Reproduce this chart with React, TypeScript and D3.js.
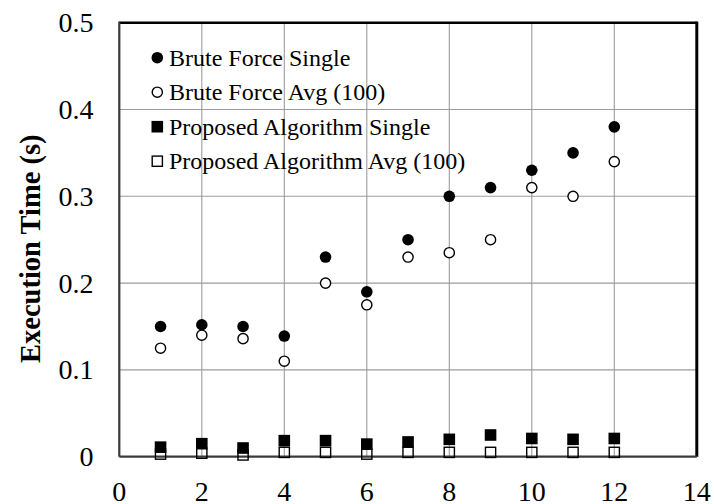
import React from 'react';
import * as d3 from 'd3';

const runs = [1, 2, 3, 4, 5, 6, 7, 8, 9, 10, 11, 12];
const bruteSingle = [0.15, 0.152, 0.15, 0.139, 0.23, 0.19, 0.25, 0.3, 0.31, 0.33, 0.35, 0.38];
const bruteAvg = [0.125, 0.14, 0.136, 0.11, 0.2, 0.175, 0.23, 0.235, 0.25, 0.31, 0.3, 0.34];
const proposedSingle = [0.011, 0.015, 0.01, 0.0185, 0.0185, 0.0145, 0.017, 0.02, 0.025, 0.021, 0.02, 0.021];
const proposedAvg = [0.003, 0.004, 0.002, 0.005, 0.005, 0.003, 0.005, 0.005, 0.005, 0.005, 0.005, 0.005];

const xTicks = [0, 2, 4, 6, 8, 10, 12, 14];
const yTicks = [0, 0.1, 0.2, 0.3, 0.4, 0.5];
const yTickLabels = ['0', '0.1', '0.2', '0.3', '0.4', '0.5'];
const seriesNames = [
  'Brute Force Single',
  'Brute Force Avg (100)',
  'Proposed Algorithm Single',
  'Proposed Algorithm Avg (100)',
];

const W = 714;
const H = 504;
const FONT = "'Liberation Serif', 'Times New Roman', serif";

const x = d3.scaleLinear().domain([0, 14]).range([119.3, 696.8]);
const y = d3.scaleLinear().domain([0, 0.5]).range([456.7, 22.7]);

const R = 5.8;
const S = 11.6;

// marker kinds: 0 filled circle, 1 open circle, 2 filled square, 3 open square
const Marker = ({ kind, cx, cy }: { kind: number; cx: number; cy: number }) => {
  if (kind === 0) return <circle cx={cx} cy={cy} r={R} fill="#000" />;
  if (kind === 1)
    return <circle cx={cx} cy={cy} r={R - 0.7} fill="#fff" stroke="#000" strokeWidth={1.4} />;
  if (kind === 2) return <rect x={cx - S / 2} y={cy - S / 2} width={S} height={S} fill="#000" />;
  return (
    <rect
      x={cx - S / 2 + 0.7}
      y={cy - S / 2 + 0.7}
      width={S - 1.4}
      height={S - 1.4}
      fill="none"
      stroke="#000"
      strokeWidth={1.4}
    />
  );
};

const App = () => {
  const series = [bruteSingle, bruteAvg, proposedSingle, proposedAvg];
  const [x0, x1] = x.range();
  const [y0, y1] = y.range();

  return (
    <svg
      width={W}
      height={H}
      style={{ position: 'absolute', left: 0, top: 0, background: '#fff', fontFamily: FONT }}
    >
      {/* grid */}
      <g stroke="#9c9c9c" strokeWidth={1.1}>
        {xTicks.slice(1, -1).map((t) => (
          <line key={'gx' + t} x1={x(t)} x2={x(t)} y1={y0} y2={y1} />
        ))}
        {yTicks.slice(1, -1).map((t) => (
          <line key={'gy' + t} x1={x0} x2={x1} y1={y(t)} y2={y(t)} />
        ))}
      </g>

      {/* frame */}
      <line x1={x0} x2={x1} y1={y1} y2={y1} stroke="#000" strokeWidth={2.4} />
      <line x1={x1} x2={x1} y1={y1 - 1.2} y2={y0} stroke="#000" strokeWidth={3} />
      <line x1={x0} x2={x0} y1={y1 - 1.2} y2={y0} stroke="#3a3a3a" strokeWidth={2.2} />
      <line x1={x0} x2={x1} y1={y0} y2={y0} stroke="#3a3a3a" strokeWidth={2.2} />

      {/* tick labels */}
      <g fontSize={28} fill="#000">
        {yTicks.map((t, i) => (
          <text key={'ty' + t} x={93.5} y={y(t)} textAnchor="end" dominantBaseline="central">
            {yTickLabels[i]}
          </text>
        ))}
        {xTicks.map((t) => (
          <text key={'tx' + t} x={x(t)} y={501} textAnchor="middle">
            {t}
          </text>
        ))}
      </g>

      <text
        transform={`translate(30,${(y0 + y1) / 2 + 9}) rotate(-90)`}
        textAnchor="middle"
        dominantBaseline="central"
        fontSize={28.5}
        fontWeight="bold"
      >
        Execution Time (s)
      </text>

      {/* points */}
      {series.map((vals, k) => (
        <g key={'s' + k}>
          {runs.map((r, i) => (
            <Marker key={r} kind={k} cx={x(r)} cy={y(vals[i])} />
          ))}
        </g>
      ))}

      {/* legend */}
      {seriesNames.map((name, k) => {
        const cy = 57.7 + k * 34.5;
        return (
          <g key={name}>
            <Marker kind={k} cx={157.3} cy={cy} />
            <text x={169} y={cy + 7.8} fontSize={24}>
              {name}
            </text>
          </g>
        );
      })}
    </svg>
  );
};

export default App;
